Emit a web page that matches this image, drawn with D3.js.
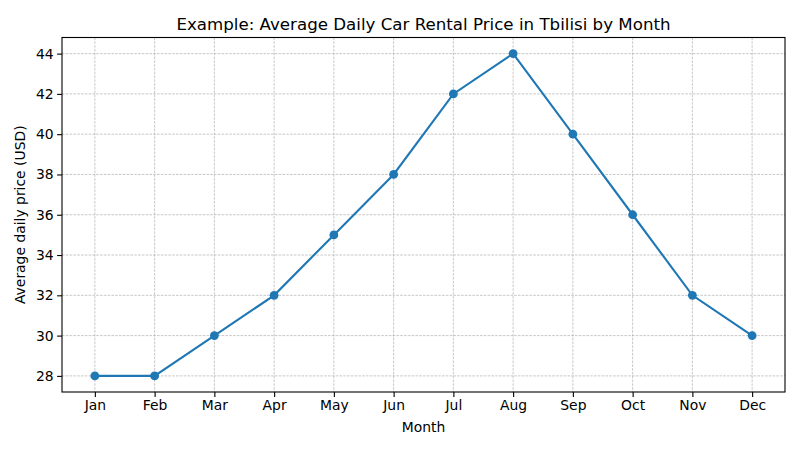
<!DOCTYPE html>
<html>
<head>
<meta charset="utf-8">
<script src="https://cdn.jsdelivr.net/npm/d3@7"></script>
<style>
  body { margin: 0; background: #fff; }
  text { font-family: "DejaVu Sans", sans-serif; fill: #000; }
</style>
</head>
<body>
<div id="chart"></div>
<script>
const months = ["Jan", "Feb", "Mar", "Apr", "May", "Jun", "Jul", "Aug", "Sep", "Oct", "Nov", "Dec"];
const prices = [28, 28, 30, 32, 35, 38, 42, 44, 40, 36, 32, 30];
const yTicks = [28, 30, 32, 34, 36, 38, 40, 42, 44];

const W = 800, H = 450;
const margin = { top: 37.5, right: 15, bottom: 58, left: 62 };
const width = W - margin.left - margin.right;
const height = H - margin.top - margin.bottom;

const svg = d3.select("#chart")
  .append("svg")
  .attr("width", W)
  .attr("height", H);

const g = svg.append("g")
  .attr("transform", "translate(" + margin.left + "," + margin.top + ")");

const x = d3.scaleLinear()
  .domain([-0.55, months.length - 1 + 0.55])
  .range([0, width]);

const y = d3.scaleLinear()
  .domain([27.2, 44.8])
  .range([height, 0]);

// grid
g.append("g").selectAll("line")
  .data(months.map((m, i) => i))
  .join("line")
  .attr("x1", d => x(d)).attr("x2", d => x(d))
  .attr("y1", 0).attr("y2", height)
  .attr("stroke", "#b0b0b0").attr("stroke-width", 0.7)
  .attr("stroke-dasharray", "2.6,1.2");

g.append("g").selectAll("line")
  .data(yTicks)
  .join("line")
  .attr("x1", 0).attr("x2", width)
  .attr("y1", d => y(d)).attr("y2", d => y(d))
  .attr("stroke", "#b0b0b0").attr("stroke-width", 0.7)
  .attr("stroke-dasharray", "2.6,1.2");

// axes
const xAxis = g.append("g")
  .attr("transform", "translate(0," + height + ")")
  .call(d3.axisBottom(x).tickValues(d3.range(months.length)).tickFormat(i => months[i]).tickSize(4.9).tickPadding(3.5));

const yAxis = g.append("g")
  .call(d3.axisLeft(y).tickValues(yTicks).tickSize(4.9).tickPadding(3.5));

[xAxis, yAxis].forEach(a => {
  a.select(".domain").remove();
  a.selectAll("text").style("font-size", "13.9px").style("font-family", "DejaVu Sans, sans-serif");
  a.selectAll("line").attr("stroke", "#000").attr("stroke-width", 1.1);
});

// frame
g.append("rect")
  .attr("width", width).attr("height", height)
  .attr("fill", "none").attr("stroke", "#000").attr("stroke-width", 1.1);

// line
const line = d3.line()
  .x((d, i) => x(i))
  .y(d => y(d));

g.append("path")
  .datum(prices)
  .attr("fill", "none")
  .attr("stroke", "#1f77b4")
  .attr("stroke-width", 2.1)
  .attr("d", line);

g.selectAll(".dot")
  .data(prices)
  .join("circle")
  .attr("class", "dot")
  .attr("cx", (d, i) => x(i))
  .attr("cy", d => y(d))
  .attr("r", 4.4)
  .attr("fill", "#1f77b4");

// title and labels
svg.append("text")
  .attr("x", margin.left + width / 2)
  .attr("y", 29.5)
  .attr("text-anchor", "middle")
  .style("font-size", "16.67px")
  .text("Example: Average Daily Car Rental Price in Tbilisi by Month");

svg.append("text")
  .attr("x", margin.left + width / 2)
  .attr("y", 432)
  .attr("text-anchor", "middle")
  .style("font-size", "13.9px")
  .text("Month");

svg.append("text")
  .attr("transform", "rotate(-90)")
  .attr("x", -(margin.top + height / 2))
  .attr("y", 25)
  .attr("text-anchor", "middle")
  .style("font-size", "13.9px")
  .text("Average daily price (USD)");
</script>
</body>
</html>
